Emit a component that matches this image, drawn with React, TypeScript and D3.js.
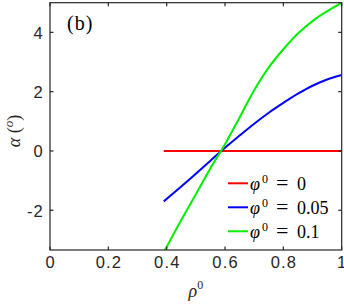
import React from 'react';
import * as d3 from 'd3';

// rho^0 samples and alpha (deg) per phi^0
const rho = [0.39, 0.45, 0.5, 0.55, 0.6, 0.65, 0.7, 0.75, 0.8, 0.85, 0.9, 0.95, 1.0];
const alphaPhi0 = [0, 0, 0, 0, 0, 0, 0, 0, 0, 0, 0, 0, 0];
const alphaPhi005 = [-1.7, -1.2, -0.77, -0.33, 0.11, 0.52, 0.92, 1.29, 1.62, 1.93, 2.2, 2.41, 2.56];
const alphaPhi01 = [-3.42, -2.33, -1.46, -0.58, 0.23, 1.13, 2.05, 2.82, 3.43, 3.96, 4.38, 4.71, 5.0];

const xTicks = [0, 0.2, 0.4, 0.6, 0.8, 1];
const xTickLabels = ['0', '0.2', '0.4', '0.6', '0.8', '1'];
const yTicks = [-2, 0, 2, 4];
const yTickLabels = ['-2', '0', '2', '4'];

const seriesNames = ['0', '0.05', '0.1'];
const seriesColors = ['#ff0000', '#0000ff', '#00ee00'];
const seriesValues = [alphaPhi0, alphaPhi005, alphaPhi01];

const W = 344;
const H = 305;
const margin = { top: 2.7, right: 2.3, bottom: 55, left: 50 };

const App: React.FC = () => {
  const x = d3.scaleLinear().domain([0, 1]).range([margin.left, W - margin.right]);
  const y = d3.scaleLinear().domain([-3.34, 5]).range([H - margin.bottom, margin.top]);

  const line = d3.line<[number, number]>()
    .x(d => x(d[0]))
    .y(d => y(d[1]))
    .curve(d3.curveCatmullRom);

  const axisColor = '#262626';
  const x0 = x(0), x1 = x(1);
  const y0 = y(-3.34), y1 = y(5);
  const tick = 3.5;

  return (
    <svg width={W} height={H} style={{ position: 'absolute', left: 0, top: 0, background: '#fff' }}>
      <defs>
        <clipPath id="plot">
          <rect x={x0} y={y1} width={x1 - x0} height={y0 - y1} />
        </clipPath>
      </defs>
      <rect x={0} y={0} width={W} height={H} fill="#fff" />

      {/* curves */}
      <g clipPath="url(#plot)">
        {seriesValues.map((vals, i) => (
          <path
            key={i}
            d={line(rho.map((r, j) => [r, vals[j]] as [number, number])) || ''}
            fill="none"
            stroke={seriesColors[i]}
            strokeWidth={2}
          />
        ))}
      </g>

      {/* box + ticks */}
      <g stroke={axisColor} strokeWidth={1.2} fill="none">
        <rect x={x0} y={y1} width={x1 - x0} height={y0 - y1} />
        {xTicks.map(t => (
          <g key={'xt' + t}>
            <line x1={x(t)} x2={x(t)} y1={y0} y2={y0 - tick} />
            <line x1={x(t)} x2={x(t)} y1={y1} y2={y1 + tick} />
          </g>
        ))}
        {yTicks.map(t => (
          <g key={'yt' + t}>
            <line x1={x0} x2={x0 + tick} y1={y(t)} y2={y(t)} />
            <line x1={x1} x2={x1 - tick} y1={y(t)} y2={y(t)} />
          </g>
        ))}
      </g>

      {/* tick labels */}
      <g fill={axisColor} fontFamily="'Liberation Sans', Arial, sans-serif" fontSize={16.5} letterSpacing={1.2}>
        {xTicks.map((t, i) => (
          <text key={'xl' + t} x={x(t) + 0.6} y={y0 + 18} textAnchor="middle">{xTickLabels[i]}</text>
        ))}
        {yTicks.map((t, i) => (
          <text key={'yl' + t} x={x0 - 6} y={y(t) + 6.3} textAnchor="end">{yTickLabels[i]}</text>
        ))}
      </g>

      {/* axis labels */}
      <text x={(x0 + x1) / 2} y={297} textAnchor="middle" fontFamily="'Liberation Serif', serif" fontSize={18} fill={axisColor}>
        <tspan fontStyle="italic">ρ</tspan>
        <tspan fontSize={12} dy={-8}>0</tspan>
      </text>
      <text transform="translate(20,131) rotate(-90)" textAnchor="middle" fontFamily="'Liberation Serif', serif" fontSize={18} fill={axisColor}>
        <tspan fontStyle="italic">α</tspan>
        <tspan> (</tspan>
        <tspan fontStyle="italic" fontSize={13} dy={-7}>o</tspan>
        <tspan dy={7}>)</tspan>
      </text>

      {/* panel label */}
      <text x={67} y={30} fontFamily="'Liberation Serif', serif" fontSize={20} letterSpacing={1} fill="#000">(b)</text>

      {/* legend */}
      <g fontFamily="'Liberation Serif', serif" fontSize={18} fill="#000">
        {seriesNames.map((n, i) => {
          const ly = 183.3 + i * 24;
          return (
            <g key={'lg' + n}>
              <line x1={228} x2={248} y1={ly} y2={ly} stroke={seriesColors[i]} strokeWidth={2} />
              <text x={250} y={ly + 6.3}>
                <tspan fontStyle="italic">φ</tspan>
                <tspan x={262} fontSize={12} dy={-7}>0</tspan>
                <tspan x={276} dy={7} fontSize={22}>=</tspan>
                <tspan x={297}>{n}</tspan>
              </text>
            </g>
          );
        })}
      </g>
    </svg>
  );
};

export default App;
